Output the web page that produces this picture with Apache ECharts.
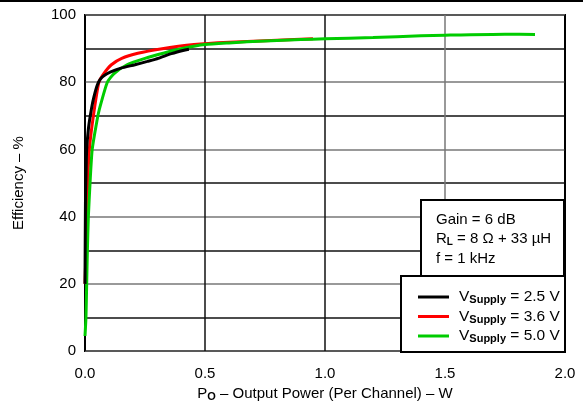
<!DOCTYPE html>
<html><head><meta charset="utf-8">
<script src="https://cdn.jsdelivr.net/npm/echarts@6/dist/echarts.min.js"></script>
<style>html,body{margin:0;padding:0;background:#fff}#c{width:583px;height:407px}</style>
</head><body><div id="c"></div>
<script>
// Data: [output power W, efficiency %]
const v25 = [[0.0,20],[0.002,45],[0.004,52],[0.007,60],[0.014,66],[0.022,70],[0.032,74],[0.042,77],[0.052,79.3],[0.064,80.9],[0.08,82],[0.105,83],[0.15,84.2],[0.208,85.2],[0.26,86.2],[0.305,87.1],[0.36,88.5],[0.417,89.6],[0.433,89.8]];
const v36 = [[0.0,20],[0.004,30],[0.007,40],[0.011,50],[0.018,60],[0.035,70],[0.058,80],[0.079,82.6],[0.11,85.2],[0.153,87.1],[0.22,88.6],[0.315,89.9],[0.454,91.2],[0.6,91.9],[0.8,92.5],[0.95,92.9]];
const v50 = [[0.0,4.5],[0.004,10],[0.007,20],[0.01,30],[0.014,40],[0.021,50],[0.03,60],[0.051,69],[0.06,72],[0.093,80],[0.12,82.5],[0.175,85.2],[0.25,87.1],[0.33,88.7],[0.41,90.1],[0.5,91.2],[0.6,91.7],[0.75,92.3],[0.9,92.7],[1.0,92.9],[1.2,93.3],[1.4,93.8],[1.5,94.0],[1.75,94.3],[1.875,94.2]];
const seriesNames = ['2.5 V','3.6 V','5.0 V'];
const seriesColors = ['#000000','#ff0000','#00cc00'];
const annotation = ['Gain = 6 dB','R{sub|L} = 8 Ω + 33 µH','f = 1 kHz'];

const chart = echarts.init(document.getElementById('c'));
const font = 'Liberation Sans, Arial, sans-serif';
const datasets = [v25, v36, v50];
chart.setOption({
  animation:false,
  grid:{left:85,top:15,right:18,bottom:55,show:true,borderColor:'#000',borderWidth:2,backgroundColor:'transparent'},
  xAxis:{type:'value',min:0,max:2,interval:0.5,
    axisLine:{show:false},axisTick:{show:false},
    axisLabel:{fontFamily:font,fontSize:15,color:'#000',margin:15,formatter:v=>v.toFixed(1)},
    splitLine:{show:true,lineStyle:{color:['#000','#111','#111','#777','#000'],width:1.5}},
    name:'P{sub|O} – Output Power (Per Channel) – W',nameLocation:'middle',nameGap:30,
    nameTextStyle:{fontFamily:font,fontSize:15,color:'#000',rich:{sub:{fontFamily:font,fontSize:11,fontWeight:'bold',verticalAlign:'bottom',padding:[6,0,0,0]}}}
  },
  yAxis:{type:'value',min:0,max:100,interval:10,
    axisLine:{show:false},axisTick:{show:false},
    axisLabel:{fontFamily:font,fontSize:15,color:'#000',margin:9,formatter:v=>(v%20===0?String(v):'')},
    splitLine:{show:true,lineStyle:{color:['#777','#111'],width:1.5}},
    name:'Efficiency – %',nameLocation:'middle',nameGap:59,
    nameTextStyle:{fontFamily:font,fontSize:15,color:'#000'}
  },
  legend:{orient:'vertical',left:413,top:284,itemWidth:31,itemHeight:3,itemGap:3,icon:'rect',z:70,
    data:seriesNames,
    formatter:n=>'{a|V}{b|Supply}{a| = '+n+'}',
    textStyle:{padding:[0,0,0,5],rich:{a:{fontFamily:font,fontSize:15.5,color:'#000'},b:{fontFamily:font,fontSize:11,fontWeight:'bold',color:'#000',padding:[6,0,0,0]}}}
  },
  graphic:[
    {type:'line',shape:{x1:0,y1:1,x2:583,y2:1},style:{stroke:'#000',lineWidth:2},z:100},
    {type:'rect',shape:{x:421,y:200,width:143,height:76},style:{fill:'#fff',stroke:'#000',lineWidth:2},z:50},
    {type:'rect',shape:{x:401,y:276,width:164,height:76},style:{fill:'#fff',stroke:'#000',lineWidth:2},z:50},
    {type:'text',left:436,top:210,z:60,style:{text:annotation.join('\n'),fontFamily:font,fontSize:15,fill:'#000',lineHeight:19.5,
      rich:{sub:{fontFamily:font,fontSize:10,fontWeight:'bold',padding:[6,0,0,0]}}}}
  ],
  series:datasets.map((d,i)=>({
    name:seriesNames[i],type:'line',data:d,showSymbol:false,smooth:0.2,
    lineStyle:{color:seriesColors[i],width:3},itemStyle:{color:seriesColors[i]},z:3+ (i===0?1:0)
  }))
});
</script></body></html>
